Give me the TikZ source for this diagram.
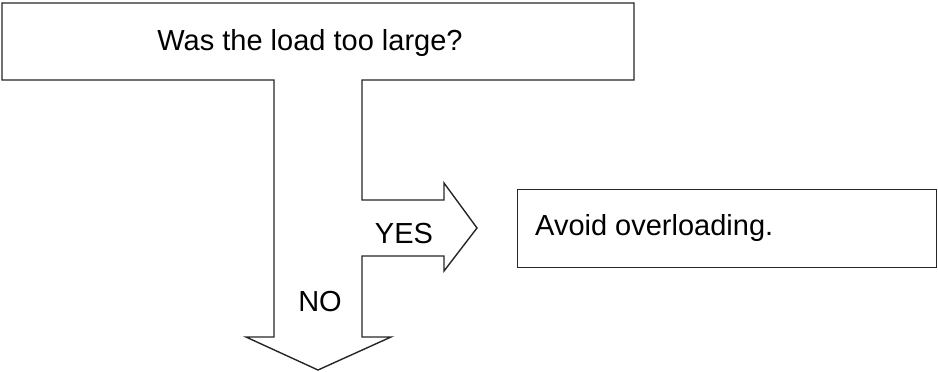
\documentclass[tikz,border=0pt]{standalone}
\usepackage{fontspec}
\setmainfont{Liberation Sans}
\begin{document}
\begin{tikzpicture}[x=1pt,y=-1pt,
  outline/.style={draw=black!85, line width=1.4pt, line join=miter},
  label/.style={font=\fontsize{29}{33}\selectfont, inner sep=0pt, text=black}]
\useasboundingbox (0,0) rectangle (938,372);
% question box with arrows as one outline
\draw[outline] (2,3) -- (634,3) -- (634,80) -- (362,80) -- (362,200)
  -- (444,200) -- (444,183) -- (477,228) -- (444,271) -- (444,256)
  -- (362,256) -- (362,337) -- (391,337) -- (318,370) -- (246,337)
  -- (274,337) -- (274,80) -- (2,80) -- cycle;
\node[label, anchor=base] (question) at (310,50) {Was the load too large?};
\node[label, anchor=base] (yes) at (404,243) {YES};
\node[label, anchor=base] (no) at (320,311) {NO};
\node[outline, anchor=north west, minimum width=419pt, minimum height=78pt, inner sep=0pt] (avoid) at (517,189) {};
\node[label, anchor=base west] (avoidtxt) at (535,235) {Avoid overloading.};
\end{tikzpicture}
\end{document}
